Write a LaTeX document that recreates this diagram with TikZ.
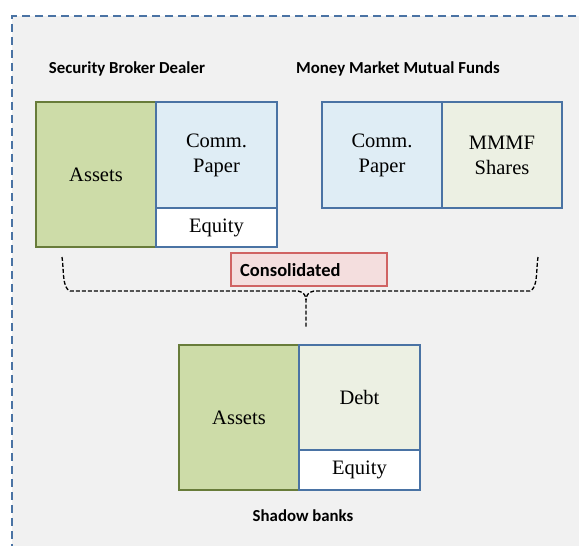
\documentclass[tikz,border=0pt]{standalone}
\usepackage{fontspec}
\setmainfont{Liberation Serif}
\newfontfamily\titlefont{Carlito}
\begin{document}
\begin{tikzpicture}[x=1pt,y=-1pt,
  bx/.style={draw, line width=2pt, anchor=north west, inner sep=0pt, align=center, font=\fontsize{20.5}{25}\selectfont},
  greenbox/.style={bx, draw=olivegreen, fill=assetgreen},
  bluebox/.style={bx, draw=boxblue, fill=paperblue},
  sharebox/.style={bx, draw=boxblue, fill=sharegreen},
  eqbox/.style={bx, draw=boxblue, fill=white},
  ttl/.style={font=\titlefont\bfseries\fontsize{16.8}{20}\selectfont, inner sep=0pt},
  brace/.style={draw=black, line width=1.3pt, dash pattern=on 4pt off 2pt}
]
\definecolor{olivegreen}{HTML}{687C3A}
\definecolor{assetgreen}{HTML}{CDDCA8}
\definecolor{boxblue}{HTML}{4A73A4}
\definecolor{paperblue}{HTML}{DFEDF5}
\definecolor{sharegreen}{HTML}{ECF0E3}
\definecolor{bggray}{HTML}{F1F1F1}
\definecolor{dashblue}{HTML}{4A73A4}
\definecolor{consfill}{HTML}{F4DEDE}
\definecolor{consdraw}{HTML}{D06363}
\useasboundingbox (0,0) rectangle (579,546);
\fill[white] (0,0) rectangle (579,546);
\node[fill=bggray, draw=dashblue, line width=2pt, dash pattern=on 8pt off 5pt, anchor=north west, minimum width=600pt, minimum height=560pt, inner sep=0pt] (frame) at (11,15) {};

% titles
\node[ttl] (t1) at (127,69) {Security Broker Dealer};
\node[ttl] (t2) at (398,69) {Money Market Mutual Funds};

% broker dealer
\node[greenbox, minimum width=120pt, minimum height=145pt] (a1) at (35,101) {Assets};
\node[bluebox, minimum width=121pt, minimum height=106pt] (cp1) at (155,101) {Comm.\\Paper};
\node[eqbox, minimum width=121pt, minimum height=39pt] (e1) at (155,207) {Equity};

% MMMF
\node[bluebox, minimum width=120pt, minimum height=106pt] (cp2) at (321,101) {Comm.\\Paper};
\node[sharebox, minimum width=120pt, minimum height=106pt] (sh) at (441,101) {MMMF\\Shares};

% consolidated
\node[draw=consdraw, fill=consfill, line width=1.5pt, anchor=north west, minimum width=156pt, minimum height=33pt, inner sep=0pt] (cons) at (230,252) {};
\node[font=\titlefont\bfseries\fontsize{18.5}{22}\selectfont, anchor=west, inner sep=0pt] (consl) at (240,270) {Consolidated};

% brace
\coordinate (bl) at (62,257);
\coordinate (br) at (538,257);
\coordinate (bt) at (306,328);
\draw[brace] (bl) .. controls (64,270) and (62,288) .. (70,291)
  -- (298,291) .. controls (304,292) and (306,296) .. (306,300) -- (bt);
\draw[brace] (br) .. controls (536,270) and (538,288) .. (530,291)
  -- (314,291) .. controls (308,292) and (306,296) .. (306,300);

% shadow bank
\node[greenbox, minimum width=120pt, minimum height=145pt] (a2) at (178,344) {Assets};
\node[sharebox, minimum width=121pt, minimum height=105pt] (d2) at (298,344) {Debt};
\node[eqbox, minimum width=121pt, minimum height=40pt] (e2) at (298,449) {Equity};
\node[ttl] (t3) at (303,516) {Shadow banks};
\end{tikzpicture}
\end{document}
